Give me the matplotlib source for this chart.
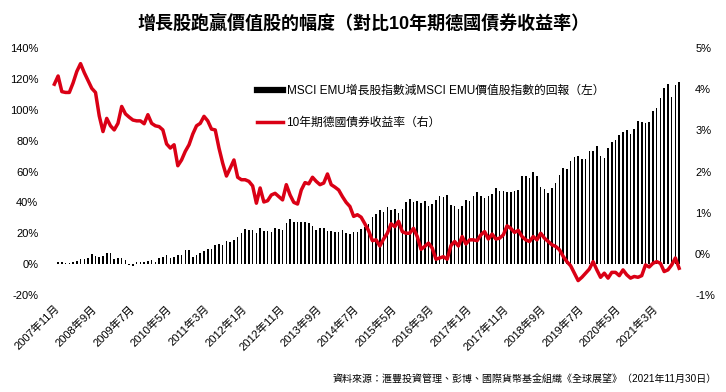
import matplotlib
matplotlib.use("Agg")
import matplotlib.pyplot as plt
from matplotlib.lines import Line2D
import numpy as np

plt.rcParams['font.family'] = ['Liberation Sans', 'Noto Sans CJK TC', 'DejaVu Sans']

# monthly data, 2007-11 .. 2021-10
start_year, start_month = 2007, 11

# MSCI EMU growth minus value return (%), left axis
growth_minus_value = [
    0.4, 1.3, 1.7, 0.9, 0.6, 1.3, 2.2, 3.4, 3.0, 4.1,
    6.5, 5.4, 4.7, 5.4, 7.3, 7.3, 3.4, 3.9, 4.1, 2.8,
    -0.4, -0.9, 1.3, 1.5, 1.5, 1.9, 2.8, 1.5, 3.7, 4.9,
    6.0, 3.7, 4.3, 6.0, 5.8, 9.2, 9.2, 4.7, 5.6, 7.3,
    8.2, 9.9, 9.9, 12.7, 13.1, 12.5, 15.1, 14.6, 15.5, 17.6,
    20.4, 22.6, 22.4, 21.9, 20.0, 23.2, 21.3, 21.3, 20.9, 23.2,
    22.6, 21.9, 26.5, 29.0, 27.3, 27.1, 27.1, 27.1, 26.7, 24.7,
    21.9, 23.2, 23.2, 21.3, 21.3, 20.9, 20.6, 21.9, 20.4, 19.4,
    20.6, 20.6, 22.6, 23.9, 25.8, 30.3, 32.5, 34.8, 33.8, 36.8,
    34.8, 35.9, 33.3, 35.7, 40.0, 41.9, 40.0, 41.1, 39.6, 40.6,
    37.4, 38.9, 41.3, 43.9, 43.2, 44.5, 38.5, 37.4, 35.9, 37.4,
    41.3, 40.6, 43.9, 46.5, 43.9, 42.8, 43.9, 45.6, 49.2, 47.1,
    47.1, 46.5, 46.5, 47.1, 47.7, 57.4, 57.4, 56.1, 60.0, 56.8,
    49.7, 48.6, 45.8, 49.2, 52.5, 57.8, 62.2, 61.7, 67.1, 69.7,
    70.3, 68.0, 68.0, 73.5, 73.5, 76.8, 70.3, 68.6, 75.1, 79.4,
    80.6, 83.7, 85.4, 86.9, 84.1, 87.5, 92.9, 92.3, 91.6, 91.8,
    99.4, 100.9, 107.3, 113.8, 116.6, 108.0, 116.3, 118.1,
]

# 10y German bund yield (%), right axis
bund_yield = [
    4.12, 4.32, 3.94, 3.92, 3.92, 4.15, 4.43, 4.62, 4.40, 4.21,
    4.02, 3.92, 3.35, 2.97, 3.29, 3.11, 3.01, 3.17, 3.58, 3.40,
    3.32, 3.25, 3.23, 3.23, 3.16, 3.38, 3.17, 3.11, 3.09, 3.01,
    2.67, 2.57, 2.65, 2.14, 2.28, 2.49, 2.65, 2.91, 3.11, 3.17,
    3.34, 3.23, 3.03, 3.01, 2.57, 2.20, 1.89, 2.08, 2.28, 1.86,
    1.80, 1.80, 1.76, 1.65, 1.23, 1.60, 1.26, 1.29, 1.43, 1.47,
    1.39, 1.31, 1.68, 1.43, 1.25, 1.21, 1.55, 1.73, 1.70, 1.86,
    1.76, 1.68, 1.72, 1.94, 1.68, 1.62, 1.55, 1.39, 1.25, 1.15,
    0.91, 0.95, 0.89, 0.73, 0.56, 0.32, 0.34, 0.19, 0.36, 0.50,
    0.73, 0.66, 0.79, 0.54, 0.50, 0.50, 0.62, 0.42, 0.11, 0.18,
    0.26, 0.14, -0.13, -0.10, -0.07, -0.13, 0.20, 0.30, 0.19, 0.42,
    0.24, 0.34, 0.34, 0.32, 0.46, 0.54, 0.36, 0.48, 0.36, 0.38,
    0.46, 0.68, 0.62, 0.52, 0.57, 0.42, 0.34, 0.30, 0.42, 0.34,
    0.50, 0.38, 0.30, 0.22, 0.18, 0.10, -0.06, -0.19, -0.29, -0.47,
    -0.65, -0.57, -0.47, -0.37, -0.19, -0.39, -0.57, -0.47, -0.59, -0.45,
    -0.45, -0.53, -0.39, -0.51, -0.59, -0.55, -0.57, -0.53, -0.27, -0.32,
    -0.23, -0.19, -0.23, -0.43, -0.39, -0.27, -0.10, -0.35,
]

title = '增長股跑贏價值股的幅度（對比10年期德國債券收益率）'
bar_label = 'MSCI EMU增長股指數減MSCI EMU價值股指數的回報（左）'
line_label = '10年期德國債券收益率（右）'
source = '資料來源：滙豐投資管理、彭博、國際貨幣基金組織《全球展望》（2021年11月30日）'

n = len(growth_minus_value)
x = np.arange(n)
tick_idx = list(range(0, n, 10))
tick_labels = []
for i in tick_idx:
    m = start_month - 1 + i
    tick_labels.append(f'{start_year + m // 12}年{m % 12 + 1}月')

red = '#DA0015'

fig = plt.figure(figsize=(7.26, 3.92), dpi=100)
ax = fig.add_axes([48 / 726, 97 / 392, 636 / 726, 247 / 392])
ax2 = ax.twinx()

ax.bar(x, growth_minus_value, width=0.42, color='black', zorder=2)
ax2.plot(x, bund_yield, color=red, linewidth=2.5, solid_joinstyle='round', zorder=3)

ax.set_xlim(-1.7, 168.3)
ax.set_ylim(-20, 140)
ax2.set_ylim(-1, 5)

ax.set_yticks(np.arange(-20, 141, 20))
ax.set_yticklabels([f'{v}%' for v in range(-20, 141, 20)])
ax2.set_yticks(np.arange(-1, 6, 1))
ax2.set_yticklabels([f'{v}%' for v in range(-1, 6)])

ax.set_xticks(tick_idx)
ax.set_xticklabels(tick_labels, rotation=45, ha='right', va='top', rotation_mode='anchor')

for a in (ax, ax2):
    for s in a.spines.values():
        s.set_visible(False)
    a.tick_params(length=0, labelsize=8, colors='black')
ax.tick_params(axis='y', pad=7)
ax.tick_params(axis='x', pad=6)
ax2.tick_params(axis='y', pad=8)

fig.text(0.5, 1 - 24 / 392, title, ha='center', va='center', fontsize=13, fontweight='bold')
fig.text(717 / 726, 1 - 379 / 392, source, ha='right', va='center', fontsize=7.2)

handles = [Line2D([], [], color='black', linewidth=4.5),
           Line2D([], [], color=red, linewidth=2.5)]
fig.legend(handles, [bar_label, line_label], loc='upper left',
           bbox_to_anchor=(257 / 726, 1 - 85 / 392), frameon=False,
           fontsize=8.5, handlelength=2.2, handletextpad=0.3,
           labelspacing=1.7, borderpad=0, borderaxespad=0)

fig.savefig('out.png', dpi=100)
